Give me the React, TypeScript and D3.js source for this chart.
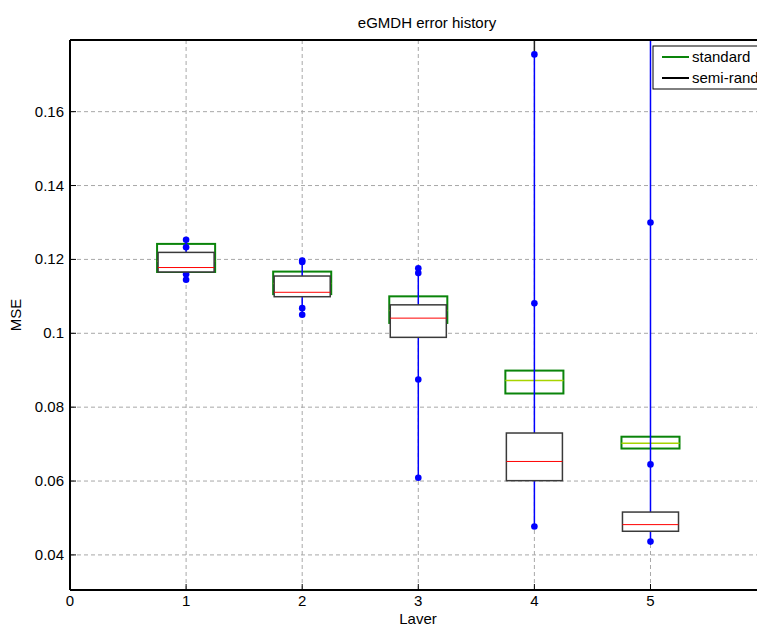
import React from "react";
import * as d3 from "d3";

// layer numbers
const layers = [1, 2, 3, 4, 5];

// "standard" boxes (green)
const stdQ1 = [0.1166, 0.1106, 0.1028, 0.0837, 0.0688];
const stdMed = [0.1195, 0.1135, 0.1062, 0.0872, 0.0702];
const stdQ3 = [0.1242, 0.1167, 0.11, 0.0899, 0.072];

// "semi-random" boxes (black)
const semiQ1 = [0.1166, 0.1099, 0.0989, 0.0601, 0.0464];
const semiMed = [0.1178, 0.1111, 0.1041, 0.0653, 0.0482];
const semiQ3 = [0.1219, 0.1155, 0.1077, 0.073, 0.0516];

// blue min-max lines and points
const lineLo = [0.1142, 0.105, 0.0609, 0.0477, 0.0436];
const lineHi = [0.1253, 0.1197, 0.1176, 0.1755, 0.21];
const points = [
  [0.1253, 0.1233, 0.116, 0.1145],
  [0.1197, 0.1193, 0.1068, 0.105],
  [0.1176, 0.1163, 0.0875, 0.0609],
  [0.1755, 0.1081, 0.0477],
  [0.13, 0.0645, 0.0436],
];
// black tail above the top point of layer 4
const tailHi = [0, 0, 0, 0.21, 0];

const xTicks = [0, 1, 2, 3, 4, 5];
const yTicks = [0.04, 0.06, 0.08, 0.1, 0.12, 0.14, 0.16];
const legendNames = ["standard", "semi-random"];

const W = 757;
const H = 627;
const left = 70;
const top = 40;
const bottom = 590;
const right = 784;

const font = "'Liberation Sans', Arial, Helvetica, sans-serif";

const App = () => {
  const x = d3.scaleLinear().domain([0, 6.15]).range([left, right]);
  const y = d3.scaleLinear().domain([0.0305, 0.1794]).range([bottom, top]);
  const fmt = (v: number) => String(+v.toFixed(2));
  const half = (x(1) - x(0)) * 0.25;

  return (
    <svg
      width={W}
      height={H}
      style={{ position: "absolute", left: 0, top: 0, background: "#fff" }}
      fontFamily={font}
    >
      <defs>
        <clipPath id="plot">
          <rect x={left} y={top} width={right - left} height={bottom - top} />
        </clipPath>
      </defs>
      <rect x={0} y={0} width={W} height={H} fill="#fff" />

      {/* grid */}
      <g stroke="#a8a8a8" strokeDasharray="4,3" strokeWidth={1}>
        {yTicks.map((t) => (
          <line key={"gy" + t} x1={left} x2={right} y1={y(t)} y2={y(t)} />
        ))}
        {xTicks.slice(1).map((t) => (
          <line key={"gx" + t} x1={x(t)} x2={x(t)} y1={top} y2={bottom} />
        ))}
      </g>

      <g clipPath="url(#plot)">
        {/* standard boxes */}
        {layers.map((l, i) => (
          <g key={"s" + l}>
            <rect
              x={x(l) - half}
              y={y(stdQ3[i])}
              width={half * 2}
              height={y(stdQ1[i]) - y(stdQ3[i])}
              fill="none"
              stroke="#0a840a"
              strokeWidth={2}
            />
            <line
              x1={x(l) - half}
              x2={x(l) + half}
              y1={y(stdMed[i])}
              y2={y(stdMed[i])}
              stroke="#a8d400"
              strokeWidth={1.5}
            />
          </g>
        ))}

        {/* blue lines and points */}
        {layers.map((l, i) => (
          <g key={"b" + l}>
            {tailHi[i] > 0 && (
              <line
                x1={x(l)}
                x2={x(l)}
                y1={y(tailHi[i])}
                y2={y(lineHi[i])}
                stroke="#222"
                strokeWidth={1.5}
              />
            )}
            <line
              x1={x(l)}
              x2={x(l)}
              y1={y(lineHi[i])}
              y2={y(lineLo[i])}
              stroke="#0000ff"
              strokeWidth={1.5}
            />
            {points[i].map((p, j) => (
              <circle key={j} cx={x(l)} cy={y(p)} r={3.3} fill="#0000ff" />
            ))}
          </g>
        ))}

        {/* semi-random boxes */}
        {layers.map((l, i) => (
          <g key={"r" + l}>
            <rect
              x={x(l) - half + 1}
              y={y(semiQ3[i])}
              width={half * 2 - 2}
              height={y(semiQ1[i]) - y(semiQ3[i])}
              fill="#fff"
              stroke="#3a3a3a"
              strokeWidth={1.5}
            />
            <line
              x1={x(l) - half + 1}
              x2={x(l) + half - 1}
              y1={y(semiMed[i])}
              y2={y(semiMed[i])}
              stroke="#ff0000"
              strokeWidth={1}
            />
          </g>
        ))}
      </g>

      {/* axes */}
      <g stroke="#000" strokeWidth={2} fill="none">
        <line x1={left} x2={right} y1={top} y2={top} />
        <line x1={left} x2={right} y1={bottom} y2={bottom} />
        <line x1={left} x2={left} y1={top} y2={bottom} />
      </g>
      <g stroke="#000" strokeWidth={1}>
        {xTicks.map((t) => (
          <line key={"tx" + t} x1={x(t)} x2={x(t)} y1={bottom} y2={bottom - 6} />
        ))}
        {yTicks.map((t) => (
          <line key={"ty" + t} x1={left} x2={left + 6} y1={y(t)} y2={y(t)} />
        ))}
      </g>
      <g fontSize={15} fill="#000">
        {xTicks.map((t) => (
          <text key={"lx" + t} x={x(t)} y={bottom + 16} textAnchor="middle">
            {t}
          </text>
        ))}
        {yTicks.map((t) => (
          <text key={"ly" + t} x={left - 6} y={y(t) + 5} textAnchor="end">
            {fmt(t)}
          </text>
        ))}
        <text x={427} y={28} textAnchor="middle">
          eGMDH error history
        </text>
        <text x={418} y={624} textAnchor="middle">
          Laver
        </text>
        <text
          transform={`translate(21,${(top + bottom) / 2}) rotate(-90)`}
          textAnchor="middle"
        >
          MSE
        </text>
      </g>

      {/* legend */}
      <g>
        <rect x={653} y={46} width={130} height={43} fill="#fff" stroke="#000" strokeWidth={1} />
        {legendNames.map((n, i) => (
          <g key={n}>
            <line
              x1={662}
              x2={689}
              y1={57 + i * 21}
              y2={57 + i * 21}
              stroke={i === 0 ? "#0a840a" : "#000"}
              strokeWidth={2}
            />
            <text x={692} y={62 + i * 21} fontSize={15}>
              {n}
            </text>
          </g>
        ))}
      </g>
    </svg>
  );
};

export default App;
